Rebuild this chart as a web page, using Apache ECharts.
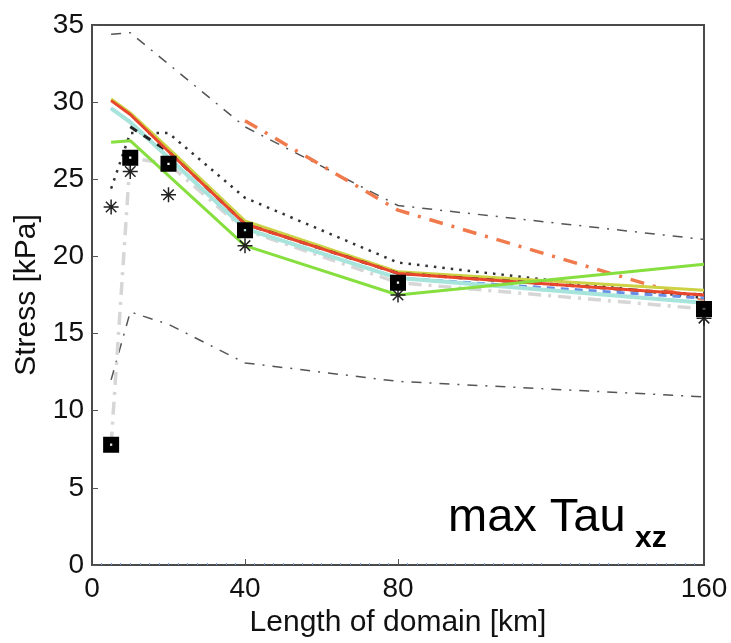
<!DOCTYPE html>
<html>
<head>
<meta charset="utf-8">
<script src="https://cdn.jsdelivr.net/npm/echarts@6/dist/echarts.min.js"></script>
<style>
  html, body { margin: 0; padding: 0; background: #fff; }
  #main { width: 731px; height: 643px; }
</style>
</head>
<body>
<div id="main"></div>
<script>
// domain lengths [km]
const xs = [5, 10, 20, 40, 80, 160];
const xsNo20 = [5, 10, 40, 80, 160];
const xsOrange = [40, 80, 160];
const xsBlackDash = [10, 20, 40, 80, 160];
const xTickLabels = [0, 40, 80, 160];

// stress values [kPa]
const upperGray = [34.4, 34.5, 28.4, 23.3, 21.1];        // xsNo20
const lowerGray = [12.0, 16.4, 15.6, 13.1, 11.9, 10.9];
const squares = [7.8, 26.4, 26.0, 21.7, 18.3, 16.6];
const asterisks = [23.2, 25.5, 24.0, 20.7, 17.5, 16.0];
const redLine = [30.1, 29.2, 26.8, 22.1, 18.9, 17.5];
const cyanLine = [29.6, 28.7, 26.4, 21.8, 18.6, 17.0];
const yellowLine = [30.2, 29.3, 27.0, 22.3, 19.0, 17.8];
const blueDashed = [29.6, 28.7, 26.4, 21.8, 18.6, 17.3];
const greenLine = [27.4, 27.5, 20.7, 17.5, 19.5];        // xsNo20
const blackDotted = [24.4, 28.0, 28.0, 23.8, 19.6, 17.3];
const blackDashed = [28.4, 26.8, 22.1, 18.9, 17.5];      // xsBlackDash
const orangeLine = [28.8, 23.0, 17.1];                   // xsOrange

const pair = (x, y) => x.map((v, i) => [v, y[i]]);

const FONT = "'Liberation Sans', Arial, sans-serif";
const asteriskPath = 'path://M-10,-1L10,-1L10,1L-10,1Z M-1,-10L1,-10L1,10L-1,10Z ' +
  'M-6.3,-7.7L7.7,6.3L6.3,7.7L-7.7,-6.3Z M-7.7,6.3L6.3,-7.7L7.7,-6.3L-6.3,7.7Z';
const squarePath = 'path://M0,0H14V14H0Z M6,6V8H8V6Z';

function line(name, data, color, width, type) {
  return {
    name: name,
    type: 'line',
    data: data,
    showSymbol: false,
    symbol: 'none',
    silent: true,
    lineStyle: { color: color, width: width, type: type || 'solid' }
  };
}

const chart = echarts.init(document.getElementById('main'));
chart.setOption({
  animation: false,
  backgroundColor: '#fff',
  grid: {
    left: 92, right: 27, top: 25, bottom: 75,
    show: true, borderColor: '#4a4a4a', borderWidth: 2
  },
  xAxis: {
    type: 'value',
    min: 0, max: 160, interval: 40,
    name: 'Length of domain [km]',
    nameLocation: 'middle',
    nameGap: 43,
    nameTextStyle: { fontFamily: FONT, fontSize: 30, color: '#111' },
    axisLine: { lineStyle: { color: '#4a4a4a', width: 2 } },
    axisTick: { show: true, inside: true, length: 6, customValues: [40, 80], lineStyle: { color: '#555' } },
    minorTick: { show: true, splitNumber: 16, length: 2, lineStyle: { color: '#7f97d6', width: 1 } },
    axisLabel: {
      fontFamily: FONT, fontSize: 28, color: '#111', margin: 10,
      formatter: v => (xTickLabels.indexOf(v) >= 0 ? String(v) : '')
    },
    splitLine: { show: false }
  },
  yAxis: {
    type: 'value',
    min: 0, max: 35, interval: 5,
    name: 'Stress [kPa]',
    nameLocation: 'middle',
    nameGap: 48,
    nameTextStyle: { fontFamily: FONT, fontSize: 30, color: '#111' },
    axisLine: { show: true, lineStyle: { color: '#4a4a4a', width: 2 } },
    axisTick: { show: true, inside: true, length: 6, lineStyle: { color: '#555' } },
    axisLabel: { fontFamily: FONT, fontSize: 28, color: '#111', margin: 8 },
    splitLine: { show: false }
  },
  series: [
    line('upper bound', pair(xsNo20, upperGray), '#555', 1.5, [10, 8, 2, 8]),
    line('lower bound', pair(xs, lowerGray), '#555', 1.5, [10, 8, 2, 8]),
    line('orange', pair(xsOrange, orangeLine), '#f07a4c', 3.5, [14, 9, 3, 9]),
    line('dotted', pair(xs, blackDotted), '#333', 2.5, [2.5, 6]),
    line('gray', pair(xs, squares), '#d6d6d6', 3.5, [13, 7, 3, 7]),
    line('blue', pair(xs, blueDashed), '#6a8ee8', 3, [8, 6]),
    line('cyan', pair(xs, cyanLine), '#a6e4dc', 4),
    line('yellow', pair(xs, yellowLine), '#cdd244', 3),
    line('black dashed', pair(xsBlackDash, blackDashed), '#222', 3, [8, 8]),
    line('red', pair(xs, redLine), '#e8472d', 3),
    line('green', pair(xsNo20, greenLine), '#86df3e', 3),
    {
      name: 'asterisk',
      type: 'scatter',
      data: pair(xs, asterisks),
      symbol: asteriskPath,
      symbolSize: 15,
      itemStyle: { color: '#222', opacity: 1 },
      z: 5
    },
    {
      name: 'square',
      type: 'scatter',
      data: pair(xs, squares),
      symbol: squarePath,
      symbolSize: 16,
      itemStyle: { color: '#000', opacity: 1 },
      z: 6
    }
  ],
  graphic: [
    {
      type: 'text',
      left: 448, top: 495,
      style: { text: 'max Tau', font: '47px ' + FONT, fill: '#000' },
      z: 10
    },
    {
      type: 'text',
      left: 635, top: 524,
      style: { text: 'xz', font: 'bold 30px ' + FONT, fill: '#000' },
      z: 10
    }
  ]
});
</script>
</body>
</html>
